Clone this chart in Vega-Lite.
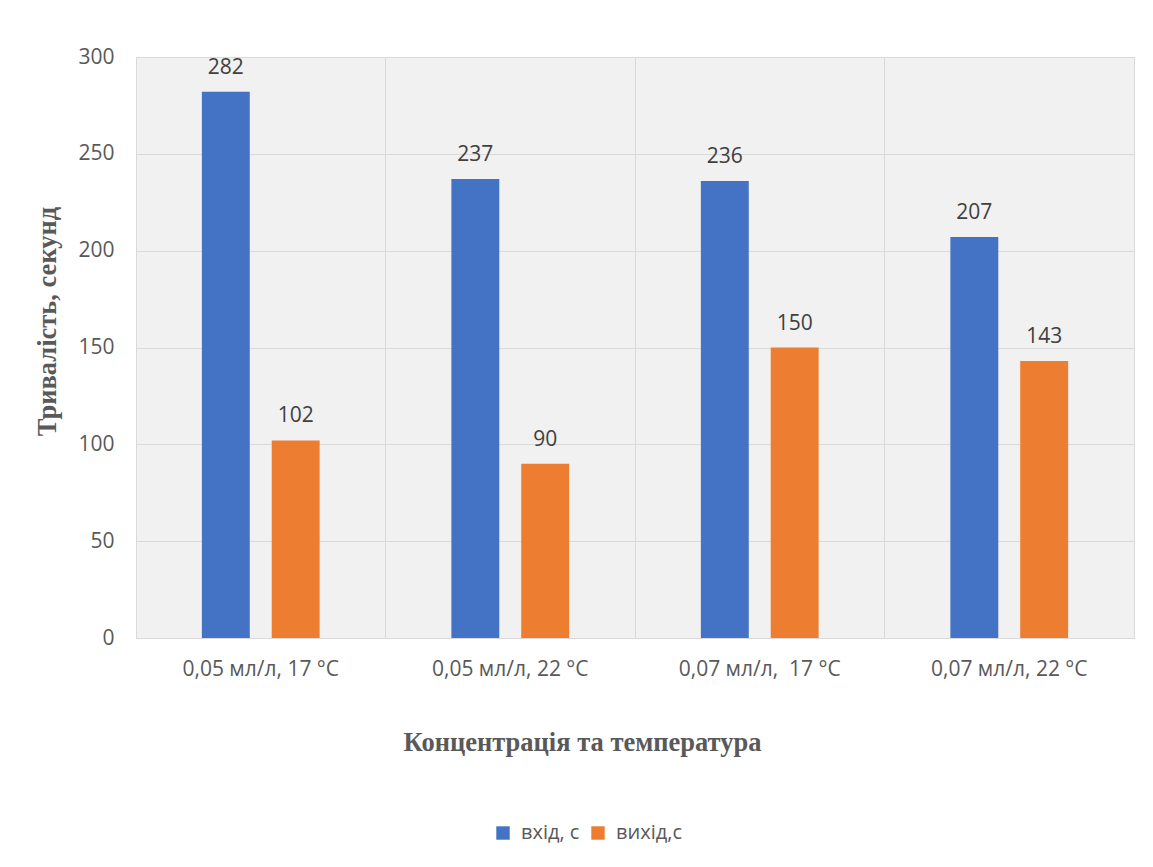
{
  "$schema": "https://vega.github.io/schema/vega-lite/v6.json",
  "width": 998,
  "height": 581,
  "autosize": {"type": "none"},
  "padding": {"left": 136, "top": 57, "right": 19, "bottom": 229},
  "background": "white",
  "config": {
    "font": "Open Sans",
    "view": {"stroke": "#d9d9d9", "strokeWidth": 1, "fill": "#f1f1f1"},
    "axis": {
      "labelFont": "Open Sans",
      "labelFontSize": 21,
      "labelColor": "#595959",
      "titleFont": "Liberation Serif",
      "titleFontSize": 26.5,
      "titleFontWeight": "bold",
      "titleColor": "#595959",
      "gridColor": "#d9d9d9",
      "gridWidth": 1,
      "ticks": false
    }
  },
  "data": {
    "values": [
      {"cat": "0,05 мл/л, 17 °C", "series": "вхід, с", "value": 282},
      {"cat": "0,05 мл/л, 17 °C", "series": "вихід,с", "value": 102},
      {"cat": "0,05 мл/л, 22 °C", "series": "вхід, с", "value": 237},
      {"cat": "0,05 мл/л, 22 °C", "series": "вихід,с", "value": 90},
      {"cat": "0,07 мл/л, \u00a017 °C", "series": "вхід, с", "value": 236},
      {"cat": "0,07 мл/л, \u00a017 °C", "series": "вихід,с", "value": 150},
      {"cat": "0,07 мл/л, 22 °C", "series": "вхід, с", "value": 207},
      {"cat": "0,07 мл/л, 22 °C", "series": "вихід,с", "value": 143}
    ]
  },
  "encoding": {
    "x": {
      "field": "cat",
      "type": "nominal",
      "sort": null,
      "scale": {"paddingInner": 0, "paddingOuter": 0},
      "axis": {
        "title": "Концентрація та температура",
        "labelAngle": 0,
        "labelPadding": 20,
        "grid": true,
        "bandPosition": 0,
        "domain": true,
        "domainColor": "#d9d9d9",
        "titleX": 446,
        "titleY": 104,
        "titleBaseline": "middle"
      }
    },
    "xOffset": {
      "field": "series",
      "type": "nominal",
      "sort": ["вхід, с", "вихід,с"],
      "scale": {"paddingInner": 0.314, "paddingOuter": 0.943}
    },
    "y": {
      "field": "value",
      "type": "quantitative",
      "scale": {"domain": [0, 300], "nice": false},
      "axis": {
        "title": "Тривалість, секунд",
        "values": [0, 50, 100, 150, 200, 250, 300],
        "domain": false,
        "labelPadding": 22,
        "grid": true,
        "titleX": -89,
        "titleY": 264,
        "titleBaseline": "middle",
        "titleAngle": -90
      }
    }
  },
  "layer": [
    {
      "mark": {"type": "bar"},
      "encoding": {
        "color": {
          "field": "series",
          "type": "nominal",
          "scale": {"domain": ["вхід, с", "вихід,с"], "range": ["#4472c4", "#ed7d31"]},
          "legend": {
            "title": null,
            "orient": "none",
            "direction": "horizontal",
            "legendX": 357,
            "legendY": 766,
            "symbolType": "square",
            "symbolSize": 180,
            "symbolStrokeWidth": 0,
            "labelFont": "Open Sans",
            "labelFontSize": 20,
            "labelColor": "#595959",
            "columnPadding": 8,
            "labelOffset": 8
          }
        }
      }
    },
    {
      "mark": {"type": "text", "baseline": "alphabetic", "dy": -18, "fontSize": 21, "font": "Open Sans", "color": "#404040"},
      "encoding": {"text": {"field": "value", "type": "quantitative"}}
    }
  ]
}
